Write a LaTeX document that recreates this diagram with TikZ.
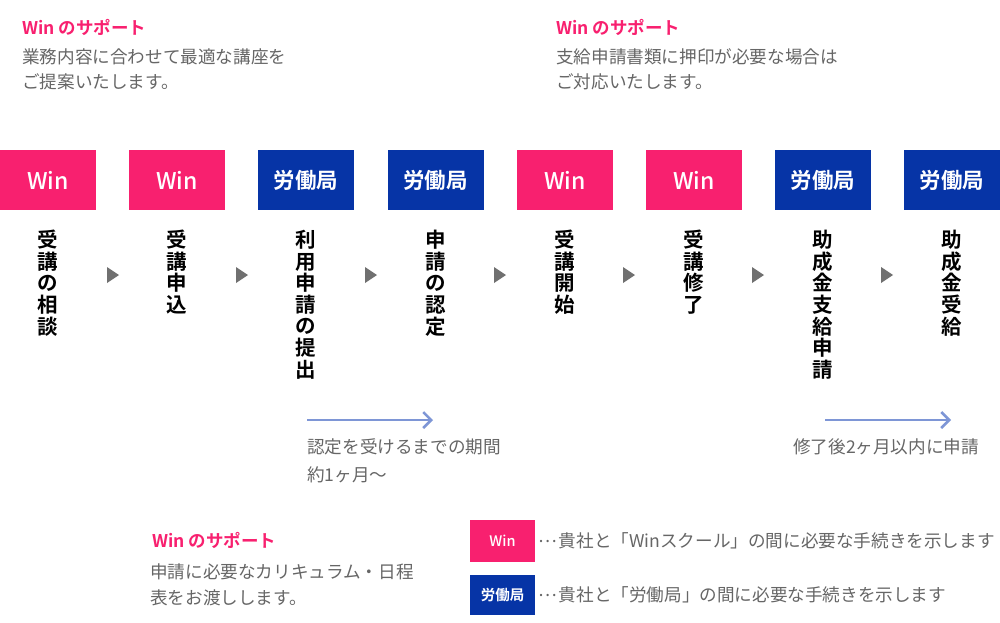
\documentclass[tikz,border=0pt]{standalone}
\usepackage{fontspec}
\setmainfont{Noto Sans CJK JP}[BoldFont={Noto Sans CJK JP Bold}]
\newfontfamily\medfont{Noto Sans CJK JP Medium}
\usetikzlibrary{arrows.meta}
\definecolor{winpink}{HTML}{F8206F}
\definecolor{mhlwblue}{HTML}{0634A6}
\definecolor{txtgray}{HTML}{666666}
\definecolor{trigray}{HTML}{707070}
\definecolor{arrblue}{HTML}{7E96D6}
\newcommand{\midell}{\raisebox{0.3em}{…}\hspace{0.1em}}
\tikzset{
  winbox/.style={fill=winpink, text=white, minimum width=96pt, minimum height=60pt, inner sep=0pt, font=\fontsize{23}{23}\medfont},
  labbox/.style={fill=mhlwblue, text=white, minimum width=96pt, minimum height=60pt, inner sep=0pt, font=\fontsize{21.5}{21.5}\selectfont\bfseries},
  vlabel/.style={anchor=north, inner sep=0pt, align=center, font=\fontsize{20.5}{21.6}\selectfont\bfseries},
  tri/.style={fill=trigray},
  head/.style={anchor=west, inner sep=0pt, text=winpink, font=\fontsize{17.5}{17.5}\selectfont\bfseries},
  body/.style={anchor=west, inner sep=0pt, text=txtgray, font=\fontsize{17.6}{18}\selectfont},
  period/.style={draw=arrblue, line width=2.5pt, -{Straight Barb[length=8pt,width=16pt,line width=2.5pt]}},
  legwin/.style={fill=winpink, text=white, minimum width=65pt, minimum height=42pt, inner sep=0pt, font=\fontsize{14.5}{14.5}\medfont},
  leglab/.style={fill=mhlwblue, text=white, minimum width=65pt, minimum height=40pt, inner sep=0pt, font=\fontsize{14.5}{14.5}\selectfont\bfseries},
}
\begin{document}
\begin{tikzpicture}[x=1pt,y=-1pt]
\useasboundingbox[fill=white] (0,0) rectangle (1000,622);
% top notes
\node[head] (h1) at (22,27) {Win のサポート};
\node[body] (h1a) at (22,57) {業務内容に合わせて最適な講座を};
\node[body] (h1b) at (22,82) {ご提案いたします。};
\node[head] (h2) at (556,27) {Win のサポート};
\node[body] (h2a) at (556,57) {支給申請書類に押印が必要な場合は};
\node[body] (h2b) at (556,82) {ご対応いたします。};
% boxes
\node[winbox] (b1) at (48,180) {Win};
\node[winbox] (b2) at (177,180) {Win};
\node[labbox] (b3) at (306,180) {労働局};
\node[labbox] (b4) at (435.5,180) {労働局};
\node[winbox] (b5) at (565,180) {Win};
\node[winbox] (b6) at (694,180) {Win};
\node[labbox] (b7) at (823,180) {労働局};
\node[labbox] (b8) at (952,180) {労働局};
% vertical labels
\node[vlabel] (l1) at (48,230) {受\\講\\の\\相\\談};
\node[vlabel] (l2) at (177,230) {受\\講\\申\\込};
\node[vlabel] (l3) at (306,230) {利\\用\\申\\請\\の\\提\\出};
\node[vlabel] (l4) at (435.5,230) {申\\請\\の\\認\\定};
\node[vlabel] (l5) at (565,230) {受\\講\\開\\始};
\node[vlabel] (l6) at (694,230) {受\\講\\修\\了};
\node[vlabel] (l7) at (823,230) {助\\成\\金\\支\\給\\申\\請};
\node[vlabel] (l8) at (952,230) {助\\成\\金\\受\\給};
% triangles
\foreach \x in {107,236,365,494,623,752,881}{
  \fill[tri] (\x,267) -- (\x+12,275) -- (\x,283) -- cycle;
}
% period arrows
\coordinate (p1s) at (307,420);
\coordinate (p1e) at (433,420);
\coordinate (p2s) at (825,420);
\coordinate (p2e) at (951,420);
\draw[period] (p1s) -- (p1e);
\draw[period] (p2s) -- (p2e);
\node[body] (n1a) at (307,447) {認定を受けるまでの期間};
\node[body] (n1b) at (307,475) {約1ヶ月〜};
\node[body] (n2) at (793,447) {修了後2ヶ月以内に申請};
% bottom note
\node[head] (h3) at (152,540) {Win のサポート};
\node[body] (h3a) at (150,572) {申請に必要なカリキュラム・日程};
\node[body] (h3b) at (150,598) {表をお渡しします。};
% legend
\node[legwin] (g1) at (502.5,541) {Win};
\node[leglab] (g2) at (502.5,595) {労働局};
\node[body, anchor=west, xshift=3pt] (g1t) at (g1.east) {\midell 貴社と「Winスクール」の間に必要な手続きを示します};
\node[body, anchor=west, xshift=3pt] (g2t) at (g2.east) {\midell 貴社と「労働局」の間に必要な手続きを示します};
\end{tikzpicture}
\end{document}
